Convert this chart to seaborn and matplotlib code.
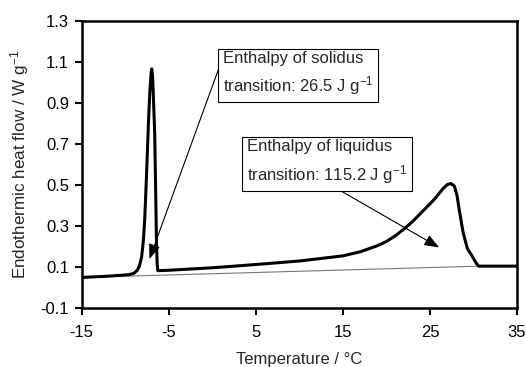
import matplotlib
matplotlib.use("Agg")
import matplotlib.pyplot as plt
import seaborn as sns
import pandas as pd

temperature = [-15, -12, -10, -9.5, -9.0, -8.6, -8.35, -8.1, -7.9, -7.75, -7.6, -7.45, -7.3, -7.15, -7.0, -6.94,
               -6.85, -6.75, -6.6, -6.5, -6.4, -6.32, -6.25, -5, 0, 5, 10, 12, 15, 17, 19, 20, 21, 22, 23, 24,
               25.5, 26.5, 27.0, 27.4, 27.8, 28.1, 28.4, 28.8, 29.3, 29.9, 30.3, 30.6, 35]
heat_flow = [0.050, 0.056, 0.062, 0.064, 0.070, 0.085, 0.105, 0.15, 0.23, 0.33, 0.48, 0.65, 0.82, 0.96, 1.05, 1.065,
             1.03, 0.93, 0.75, 0.50, 0.23, 0.12, 0.083, 0.085, 0.097, 0.113, 0.13, 0.14, 0.155, 0.175, 0.205, 0.225,
             0.252, 0.285, 0.322, 0.365, 0.43, 0.482, 0.502, 0.507, 0.495, 0.45, 0.37, 0.27, 0.19, 0.15, 0.12, 0.105, 0.105]
baseline_t = [-15, 30.6]
baseline_y = [0.050, 0.105]

x_ticks = [-15, -5, 5, 15, 25, 35]
y_ticks = [-0.1, 0.1, 0.3, 0.5, 0.7, 0.9, 1.1, 1.3]

sns.set_style("ticks")
plt.rcParams["font.family"] = ["Liberation Sans", "DejaVu Sans"]
plt.rcParams["mathtext.default"] = "regular"

fig = plt.figure(figsize=(5.26, 3.67), dpi=100)
ax = fig.add_axes([0.155, 0.16, 0.828, 0.784])

df = pd.DataFrame({"T": temperature, "H": heat_flow})
dfb = pd.DataFrame({"T": baseline_t, "H": baseline_y})
sns.lineplot(data=dfb, x="T", y="H", ax=ax, color="#777777", linewidth=0.8, sort=False)
sns.lineplot(data=df, x="T", y="H", ax=ax, color="black", linewidth=2.2, sort=False)

ax.set_xlim(-15, 35)
ax.set_ylim(-0.1, 1.3)
ax.set_xticks(x_ticks)
ax.set_yticks(y_ticks)
ax.set_xticklabels([str(v) for v in x_ticks])
ax.set_yticklabels([f"{v:.1f}" for v in y_ticks])
ax.tick_params(axis="both", labelsize=12, length=5, width=1.5, direction="out", colors="black", pad=4)
ax.tick_params(axis="x", pad=7)
for s in ax.spines.values():
    s.set_linewidth(1.8)
    s.set_color("black")
    s.set_visible(True)

ax.set_xlabel("Temperature / °C", fontsize=12, labelpad=9)
ax.set_ylabel("Endothermic heat flow / W g$^{-1}$", fontsize=12.3, labelpad=7)

bbox = dict(boxstyle="square,pad=0.3", fc="white", ec="black", lw=0.8)
arrow = dict(arrowstyle="-|>,head_length=0.9,head_width=0.35", color="black", lw=0.8, shrinkA=0, shrinkB=0)

ax.annotate("", xy=(-7.2, 0.14), xytext=(0.7, 1.06), arrowprops=arrow)
ax.text(1.2, 1.039, "Enthalpy of solidus\ntransition: 26.5 J g$^{-1}$",
        ha="left", va="center", fontsize=12, linespacing=1.5, bbox=bbox, zorder=5)

ax.annotate("", xy=(26.05, 0.196), xytext=(14.0, 0.49), arrowprops=arrow)
ax.text(4.0, 0.609, "Enthalpy of liquidus\ntransition: 115.2 J g$^{-1}$",
        ha="left", va="center", fontsize=12, linespacing=1.5, bbox=bbox, zorder=5)

fig.savefig("out.png", dpi=100)
